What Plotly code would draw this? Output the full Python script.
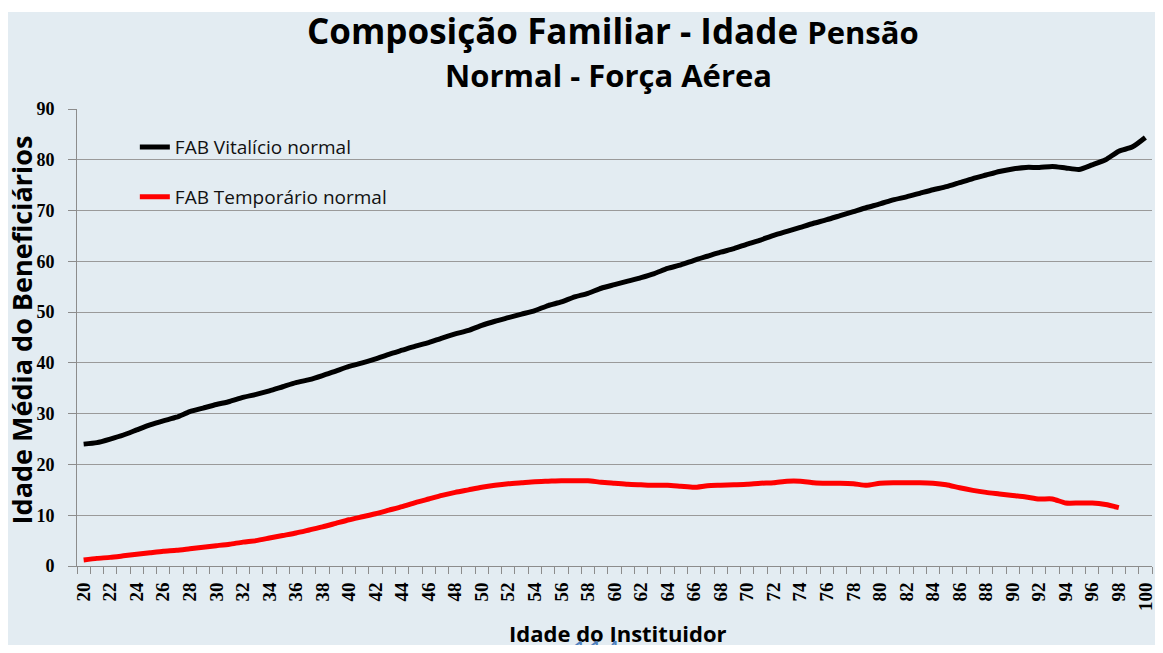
import plotly.graph_objects as go

# Idade do instituidor (categorias do eixo X)
idades = list(range(20, 101))

# FAB Vitalício normal (20 a 100)
vitalicio = [24.0, 24.3, 25.0, 25.8, 26.8, 27.8, 28.6, 29.3, 30.4, 31.1,
             31.8, 32.4, 33.2, 33.8, 34.5, 35.3, 36.1, 36.7, 37.5, 38.4,
             39.3, 40.0, 40.8, 41.7, 42.5, 43.3, 44.0, 44.9, 45.7, 46.4,
             47.4, 48.2, 48.9, 49.6, 50.3, 51.3, 52.0, 53.0, 53.7, 54.7,
             55.4, 56.1, 56.8, 57.6, 58.6, 59.3, 60.2, 61.0, 61.8, 62.5,
             63.4, 64.2, 65.1, 65.9, 66.7, 67.5, 68.2, 69.0, 69.8, 70.6,
             71.3, 72.1, 72.7, 73.4, 74.1, 74.7, 75.5, 76.3, 77.0, 77.7,
             78.2, 78.5, 78.5, 78.7, 78.4, 78.1, 79.0, 80.0, 81.7, 82.5,
             84.4]

# FAB Temporário normal (20 a 98)
temporario = [1.2, 1.5, 1.7, 2.0, 2.3, 2.6, 2.9, 3.1, 3.4, 3.7,
              4.0, 4.3, 4.7, 5.0, 5.5, 6.0, 6.5, 7.1, 7.7, 8.4,
              9.1, 9.7, 10.3, 11.0, 11.7, 12.5, 13.2, 13.9, 14.5, 15.0,
              15.5, 15.9, 16.2, 16.4, 16.6, 16.7, 16.8, 16.8, 16.8, 16.5,
              16.3, 16.1, 16.0, 15.9, 15.9, 15.7, 15.5, 15.8, 15.9, 16.0,
              16.1, 16.3, 16.4, 16.7, 16.7, 16.4, 16.3, 16.3, 16.2, 15.9,
              16.3, 16.4, 16.4, 16.4, 16.3, 16.0, 15.4, 14.9, 14.5, 14.2,
              13.9, 13.6, 13.2, 13.2, 12.4, 12.4, 12.4, 12.1, 11.5]

x_labels = [str(a) for a in range(20, 101, 2)]
y_ticks = list(range(0, 91, 10))

BG = "#E3ECF2"
GRID = "#9a9a9a"
AXIS = "#8c8c8c"

fig = go.Figure()
fig.add_trace(go.Scatter(
    x=idades, y=vitalicio, mode="lines", name="FAB Vitalício normal",
    legendgroup="a", line=dict(color="black", width=5, shape="spline", smoothing=0.6)
))
fig.add_trace(go.Scatter(
    x=idades[:len(temporario)], y=temporario, mode="lines", name="FAB Temporário normal",
    legendgroup="b", line=dict(color="#FF0000", width=5, shape="spline", smoothing=0.6)
))

# the page body has an 8px margin, so the figure is sized to fit inside it
fig.update_layout(
    width=1155, height=637,
    paper_bgcolor="white",
    plot_bgcolor="rgba(0,0,0,0)",
    margin=dict(l=69, r=7, t=101, b=79),
    showlegend=True,
    legend=dict(
        x=0.0538, y=0.958, xanchor="left", yanchor="top",
        bgcolor="rgba(0,0,0,0)",
        font=dict(family="Open Sans", size=19, color="#111111"),
        traceorder="grouped", tracegroupgap=22,
    ),
    xaxis=dict(
        range=[19.5, 100.5],
        tickvals=[int(v) for v in x_labels], ticktext=x_labels,
        tickangle=-90,
        ticks="",
        minor=dict(tick0=19.5, dtick=1, ticks="outside", ticklen=7,
                   tickcolor=AXIS, tickwidth=1),
        showgrid=False, zeroline=False,
        showline=True, linecolor=AXIS, linewidth=1,
        ticklabelstandoff=8,
        ticklabeloverflow="allow",
        tickfont=dict(family="Liberation Serif", size=19, color="black", weight="bold"),
    ),
    yaxis=dict(
        range=[0, 90],
        tickvals=y_ticks,
        ticks="outside", ticklen=8, tickcolor=AXIS,
        showgrid=True, gridcolor=GRID, gridwidth=1.3,
        zeroline=False,
        showline=True, linecolor=AXIS, linewidth=1,
        ticklabelstandoff=10,
        tickfont=dict(family="Liberation Serif", size=18, color="black", weight="bold"),
    ),
    shapes=[
        # fundo do painel do gráfico
        dict(type="rect", xref="paper", yref="paper", layer="below",
             x0=-0.08, x1=1.02, y0=-0.1729, y1=1.2123,
             fillcolor=BG, line=dict(width=0)),
        # caixa da legenda (cobre as grades)
        dict(type="rect", xref="paper", yref="paper", layer="between",
             x0=0.0148, x1=0.3086, y0=0.7133, y1=0.9759,
             fillcolor=BG, line=dict(width=0)),
    ],
    annotations=[
        dict(text="Composição Familiar - Idade <span style='font-size:31px'>Pensão</span>",
             xref="paper", yref="paper", x=0.4986, y=1.1707,
             xanchor="center", yanchor="middle", showarrow=False,
             font=dict(family="Open Sans", size=35, color="black", weight="bold")),
        dict(text="Normal - Força Aérea",
             xref="paper", yref="paper", x=0.494, y=1.0744,
             xanchor="center", yanchor="middle", showarrow=False,
             font=dict(family="Open Sans", size=31, color="black", weight="bold")),
        dict(text="Idade Média do Beneficiários",
             xref="paper", yref="paper", x=-0.0519, y=0.516, textangle=-90,
             xanchor="center", yanchor="middle", showarrow=False,
             font=dict(family="Open Sans", size=27, color="black", weight="bold")),
        dict(text="Idade do Instituidor",
             xref="paper", yref="paper", x=0.5032, y=-0.1466,
             xanchor="center", yanchor="middle", showarrow=False,
             font=dict(family="Open Sans", size=22, color="black", weight="bold")),
        dict(text="114",
             xref="paper", yref="paper", x=0.4829, y=-0.1379,
             xanchor="center", yanchor="top", showarrow=False,
             font=dict(family="Open Sans", size=28, color="#4F81BD")),
    ],
)

fig.write_html("out.html")
